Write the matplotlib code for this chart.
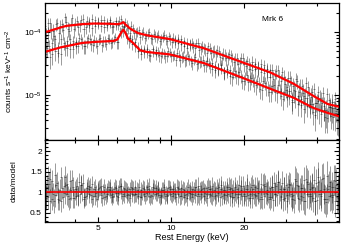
import numpy as np
import matplotlib
matplotlib.use("Agg")
import matplotlib.pyplot as plt
from matplotlib.ticker import FixedLocator, NullFormatter, LogLocator, MultipleLocator, FixedFormatter

plt.rcParams['font.family'] = ['Liberation Sans', 'DejaVu Sans']
plt.rcParams['mathtext.fontset'] = 'custom'
plt.rcParams['mathtext.rm'] = 'Liberation Sans'
plt.rcParams['mathtext.it'] = 'Liberation Sans'

# ---- model curves ----
model_a_e = [3.0, 3.1, 3.5, 3.7, 4.3, 4.8, 5.5, 6.0, 6.2, 6.35, 6.5, 6.8, 7.3, 8.0, 9.9,
             13.7, 18.9, 25.8, 32.2, 38.9, 44.4, 49.5]
model_a_v = [1.0e-4, 1.02e-4, 1.18e-4, 1.25e-4, 1.33e-4, 1.36e-4, 1.35e-4, 1.33e-4, 1.36e-4,
             1.43e-4, 1.30e-4, 1.12e-4, 0.96e-4, 0.88e-4, 0.77e-4, 0.55e-4, 3.5e-5, 2.27e-5,
             1.5e-5, 9.6e-6, 7.2e-6, 6.5e-6]
model_b_e = [3.0, 3.5, 4.3, 5.0, 5.8, 6.0, 6.1, 6.25, 6.35, 6.45, 6.65, 6.97, 7.46, 8.0, 9.9,
             13.7, 18.9, 25.8, 32.2, 38.9, 44.4, 49.5]
model_b_v = [4.8e-5, 5.7e-5, 6.7e-5, 7.0e-5, 7.2e-5, 7.6e-5, 8.5e-5, 1.0e-4, 1.08e-4, 1.0e-4,
             7.8e-5, 6.7e-5, 5.1e-5, 4.8e-5, 4.4e-5, 3.2e-5, 2.0e-5, 1.25e-5, 9e-6, 6.2e-6,
             5.2e-6, 4.6e-6]

# ---- data bins (two detectors per observation) ----
energy_a = [3.02, 3.09, 3.17, 3.26, 3.36, 3.45, 3.55, 3.65, 3.76, 3.86,
            3.97, 4.09, 4.20, 4.32, 4.45, 4.57, 4.70, 4.84, 4.98, 5.12,
            5.27, 5.42, 5.57, 5.73, 5.90, 6.06, 6.24, 6.42, 6.60, 6.79,
            6.98, 7.18, 7.39, 7.60, 7.82, 8.04, 8.27, 8.51, 8.75, 9.00,
            9.26, 9.52, 9.80, 10.08, 10.36, 10.66, 10.96, 11.28, 11.60, 11.93,
            12.27, 12.62, 12.99, 13.36, 13.74, 14.13, 14.53, 14.95, 15.38, 15.82,
            16.27, 16.73, 17.21, 17.71, 18.21, 18.73, 19.27, 19.82, 20.39, 20.97,
            21.57, 22.19, 22.82, 23.48, 24.15, 24.84, 25.55, 26.28, 27.03, 27.81,
            28.60, 29.42, 30.26, 31.13, 32.02, 32.94, 33.88, 34.85, 35.85, 36.87,
            37.93, 39.01, 40.13, 41.28, 42.46, 43.67, 44.92, 46.21, 47.53, 48.89]
energy_b = [3.04, 3.13, 3.21, 3.31, 3.40, 3.50, 3.60, 3.70, 3.81, 3.92,
            4.03, 4.14, 4.26, 4.38, 4.51, 4.64, 4.77, 4.91, 5.05, 5.19,
            5.34, 5.49, 5.65, 5.81, 5.98, 6.15, 6.33, 6.51, 6.69, 6.88,
            7.08, 7.29, 7.49, 7.71, 7.93, 8.15, 8.39, 8.63, 8.87, 9.13,
            9.39, 9.66, 9.94, 10.22, 10.51, 10.81, 11.12, 11.44, 11.77, 12.10,
            12.45, 12.80, 13.17, 13.55, 13.93, 14.33, 14.74, 15.16, 15.60, 16.04,
            16.50, 16.97, 17.46, 17.96, 18.47, 19.00, 19.54, 20.10, 20.68, 21.27,
            21.88, 22.50, 23.15, 23.81, 24.49, 25.19, 25.91, 26.65, 27.42, 28.20,
            29.01, 29.84, 30.69, 31.57, 32.47, 33.40, 34.36, 35.34, 36.35, 37.39,
            38.46, 39.56, 40.70, 41.86, 43.06, 44.29, 45.56, 46.86, 48.20, 49.20]
energy_c = [3.05, 3.11, 3.19, 3.28, 3.38, 3.47, 3.57, 3.68, 3.79, 3.89,
            4.00, 4.12, 4.23, 4.35, 4.48, 4.60, 4.73, 4.87, 5.01, 5.16,
            5.31, 5.46, 5.61, 5.77, 5.94, 6.10, 6.28, 6.46, 6.65, 6.84,
            7.03, 7.23, 7.44, 7.65, 7.87, 8.10, 8.33, 8.57, 8.81, 9.06,
            9.32, 9.59, 9.87, 10.15, 10.43, 10.73, 11.04, 11.36, 11.68, 12.01,
            12.36, 12.71, 13.08, 13.45, 13.84, 14.23, 14.63, 15.05, 15.49, 15.93,
            16.38, 16.85, 17.33, 17.83, 18.34, 18.86, 19.40, 19.96, 20.53, 21.12,
            21.72, 22.35, 22.98, 23.64, 24.32, 25.01, 25.73, 26.46, 27.22, 28.00,
            28.80, 29.63, 30.47, 31.35, 32.24, 33.17, 34.12, 35.09, 36.10, 37.13,
            38.20, 39.28, 40.41, 41.57, 42.76, 43.98, 45.23, 46.53, 47.86, 49.10]
energy_d = [3.06, 3.15, 3.23, 3.33, 3.42, 3.52, 3.63, 3.73, 3.84, 3.95,
            4.06, 4.17, 4.29, 4.41, 4.54, 4.67, 4.80, 4.94, 5.09, 5.23,
            5.38, 5.53, 5.69, 5.85, 6.02, 6.19, 6.37, 6.56, 6.74, 6.93,
            7.13, 7.34, 7.54, 7.76, 7.99, 8.21, 8.45, 8.69, 8.93, 9.19,
            9.46, 9.73, 10.01, 10.29, 10.58, 10.89, 11.20, 11.52, 11.85, 12.18,
            12.54, 12.89, 13.26, 13.64, 14.03, 14.43, 14.84, 15.27, 15.71, 16.15,
            16.62, 17.09, 17.58, 18.09, 18.60, 19.13, 19.68, 20.24, 20.82, 21.42,
            22.03, 22.66, 23.31, 23.98, 24.66, 25.37, 26.09, 26.84, 27.61, 28.40,
            29.21, 30.05, 30.90, 31.79, 32.70, 33.63, 34.60, 35.59, 36.60, 37.65,
            38.73, 39.84, 40.98, 42.15, 43.36, 44.60, 45.88, 47.19, 48.54, 49.40]
ratio_a = [1.25, 0.88, 1.32, 0.95, 1.18, 0.82, 1.10, 1.38, 0.90, 1.05,
           0.86, 1.15, 0.97, 1.22, 0.91, 1.08, 0.84, 1.12, 1.02, 0.93,
           1.14, 0.96, 1.06, 0.89, 1.10, 0.98, 1.16, 0.92, 1.04, 0.87,
           1.09, 0.95, 1.13, 1.01, 0.90, 1.07, 0.94, 1.11, 0.99, 0.88,
           1.06, 0.97, 1.12, 0.92, 1.03, 0.95, 1.10, 0.89, 1.04, 0.98,
           1.08, 0.93, 1.15, 0.96, 1.02, 0.87, 1.09, 1.00, 0.94, 1.13,
           0.91, 1.05, 0.97, 1.11, 0.89, 1.07, 0.95, 1.16, 0.92, 1.03,
           0.86, 1.12, 0.98, 1.20, 0.90, 1.06, 0.84, 1.14, 0.96, 1.24,
           0.88, 1.09, 0.80, 1.18, 0.93, 1.27, 0.85, 1.10, 0.78, 1.21,
           0.92, 1.30, 0.82, 1.05, 1.35, 0.76, 1.15, 0.88, 1.28, 0.95]
ratio_b = [0.92, 1.20, 0.85, 1.42, 1.00, 0.78, 1.15, 0.95, 1.28, 0.86,
           1.09, 0.93, 1.17, 0.88, 1.04, 1.13, 0.90, 0.99, 1.10, 0.87,
           1.01, 1.12, 0.94, 1.07, 0.90, 1.15, 0.97, 1.05, 0.93, 1.11,
           0.96, 1.04, 0.89, 1.08, 1.00, 0.92, 1.14, 0.97, 1.06, 0.91,
           1.02, 0.94, 1.09, 0.99, 0.88, 1.07, 1.01, 0.93, 1.12, 0.96,
           1.05, 0.90, 1.03, 1.10, 0.95, 1.08, 0.91, 1.04, 0.98, 1.17,
           0.93, 1.01, 1.09, 0.88, 1.14, 0.96, 1.05, 0.90, 1.19, 0.97,
           1.08, 0.92, 1.03, 0.85, 1.15, 1.00, 0.89, 1.22, 0.94, 1.07,
           0.83, 1.17, 1.02, 0.90, 1.32, 0.87, 1.11, 0.80, 1.25, 0.97,
           1.14, 0.79, 1.38, 0.90, 1.08, 0.84, 1.26, 0.93, 1.18, 0.86]
ratio_c = [0.86, 1.34, 1.02, 0.79, 1.22, 1.06, 0.88, 1.17, 0.83, 1.29,
           1.04, 0.91, 1.19, 0.85, 1.11, 0.96, 1.20, 0.90, 1.07, 1.16,
           0.89, 1.03, 1.13, 0.92, 0.99, 1.12, 0.90, 1.08, 0.97, 1.14,
           0.93, 1.05, 0.88, 1.10, 0.98, 1.15, 0.91, 1.02, 1.09, 0.94,
           1.13, 0.90, 1.00, 1.08, 0.95, 1.11, 0.92, 1.06, 0.87, 1.04,
           0.96, 1.12, 0.90, 1.07, 0.99, 1.14, 0.93, 1.05, 1.10, 0.89,
           1.06, 0.94, 1.13, 0.98, 1.02, 0.88, 1.15, 0.95, 1.09, 0.86,
           1.17, 0.93, 1.04, 0.89, 1.21, 0.97, 1.10, 0.82, 1.16, 1.00,
           1.23, 0.86, 1.12, 0.95, 0.81, 1.19, 1.03, 0.88, 1.33, 0.92,
           1.10, 0.80, 1.24, 0.97, 0.85, 1.40, 0.91, 1.12, 0.78, 1.06]
ratio_d = [1.12, 0.80, 1.27, 0.93, 0.84, 1.36, 0.98, 1.21, 0.87, 1.14,
           0.92, 1.24, 1.01, 0.89, 1.16, 0.94, 1.08, 0.85, 1.13, 1.02,
           0.91, 1.09, 0.96, 1.14, 0.88, 1.04, 1.11, 0.93, 1.07, 0.95,
           1.12, 0.90, 1.06, 0.97, 1.13, 0.89, 1.03, 1.10, 0.93, 1.05,
           0.91, 1.11, 0.96, 1.04, 1.14, 0.90, 1.07, 0.97, 1.01, 0.89,
           1.13, 0.95, 1.06, 0.92, 1.10, 0.97, 1.15, 0.90, 1.02, 1.08,
           0.95, 1.12, 0.91, 1.06, 0.97, 1.18, 0.90, 1.04, 0.93, 1.13,
           0.96, 1.10, 0.85, 1.19, 0.99, 0.88, 1.12, 0.95, 1.26, 0.90,
           1.07, 0.94, 1.20, 0.84, 1.02, 1.15, 0.90, 1.29, 0.96, 1.08,
           0.87, 1.22, 0.95, 1.33, 0.83, 1.09, 0.94, 1.30, 0.88, 1.15]
ratio_err = [0.30, 0.29, 0.28, 0.28, 0.27, 0.26, 0.26, 0.25, 0.25, 0.24,
             0.23, 0.23, 0.22, 0.22, 0.21, 0.21, 0.20, 0.20, 0.20, 0.19,
             0.19, 0.19, 0.19, 0.19, 0.19, 0.19, 0.19, 0.19, 0.19, 0.19,
             0.19, 0.19, 0.19, 0.19, 0.19, 0.19, 0.19, 0.19, 0.19, 0.19,
             0.19, 0.19, 0.19, 0.19, 0.19, 0.20, 0.20, 0.20, 0.20, 0.20,
             0.20, 0.20, 0.21, 0.21, 0.21, 0.21, 0.21, 0.22, 0.22, 0.22,
             0.22, 0.23, 0.23, 0.23, 0.23, 0.24, 0.24, 0.24, 0.25, 0.25,
             0.25, 0.26, 0.26, 0.26, 0.27, 0.27, 0.27, 0.28, 0.28, 0.28,
             0.29, 0.29, 0.30, 0.30, 0.31, 0.31, 0.32, 0.32, 0.33, 0.33,
             0.34, 0.34, 0.35, 0.35, 0.36, 0.36, 0.37, 0.37, 0.38, 0.38]

x_major = [5, 10, 20]
x_major_labels = ['5', '10', '20']
x_minor = [3, 4, 6, 7, 8, 9, 30, 40]

fig = plt.figure(figsize=(3.42, 2.44), dpi=100)
L, R = 44.5 / 342, 339 / 342
ax1 = fig.add_axes([L, 1 - 140 / 244, R - L, 137 / 244])
ax2 = fig.add_axes([L, 1 - 222 / 244, R - L, 82 / 244])

def interp_model(e, me, mv):
    return np.exp(np.interp(np.log(e), np.log(me), np.log(mv)))

ebar = dict(fmt='none', ecolor='black', elinewidth=0.5, alpha=0.55)
sets = [(energy_a, ratio_a, model_a_e, model_a_v),
        (energy_c, ratio_c, model_a_e, model_a_v),
        (energy_b, ratio_b, model_b_e, model_b_v),
        (energy_d, ratio_d, model_b_e, model_b_v)]
for en, rat, me, mv in sets:
    en = np.array(en); rat = np.array(rat); er = np.array(ratio_err)
    m = interp_model(en, me, mv)
    xe = en * 0.01
    ax1.errorbar(en, m * rat, yerr=m * er, xerr=xe, **ebar)
    ax2.errorbar(en, rat, yerr=er, xerr=xe, **ebar)

ax1.plot(model_a_e, model_a_v, color='red', lw=1.6)
ax1.plot(model_b_e, model_b_v, color='red', lw=1.6)
ax2.axhline(1.0, color='red', lw=1.2)

for ax in (ax1, ax2):
    ax.set_xscale('log')
    ax.set_xlim(3.0, 49.5)
    ax.xaxis.set_major_locator(FixedLocator(x_major))
    ax.xaxis.set_minor_locator(FixedLocator(x_minor))
    ax.xaxis.set_minor_formatter(NullFormatter())
    ax.tick_params(which='both', direction='in', top=True, right=True,
                   labelsize=6, pad=2, width=0.8, color='black')
    ax.tick_params(which='major', length=3.5)
    ax.tick_params(which='minor', length=2)
    for s in ax.spines.values():
        s.set_linewidth(0.9)

ax1.xaxis.set_major_formatter(NullFormatter())
ax2.xaxis.set_major_formatter(FixedFormatter(x_major_labels))

ax1.set_yscale('log')
ax1.set_ylim(1.93e-6, 2.88e-4)
ax1.yaxis.set_major_locator(LogLocator(base=10, numticks=10))
ax1.yaxis.set_minor_locator(LogLocator(base=10, subs=np.arange(2, 10), numticks=10))
ax1.yaxis.set_minor_formatter(NullFormatter())

ax2.set_ylim(0.28, 2.27)
ax2.yaxis.set_major_locator(FixedLocator([0.5, 1, 1.5, 2]))
ax2.yaxis.set_major_formatter(FixedFormatter(['0.5', '1', '1.5', '2']))
ax2.yaxis.set_minor_locator(MultipleLocator(0.1))

ax1.text(0.775, 0.88, 'Mrk 6', transform=ax1.transAxes, fontsize=6, ha='center', va='center')
ax1.set_ylabel('counts s$^{-1}$ keV$^{-1}$ cm$^{-2}$', fontsize=6, labelpad=6)
ax2.set_ylabel('data/model', fontsize=6, labelpad=9)
ax2.set_xlabel('Rest Energy (keV)', fontsize=6.5, labelpad=1)
fig.align_ylabels([ax1, ax2])

fig.savefig('out.png', dpi=100)
